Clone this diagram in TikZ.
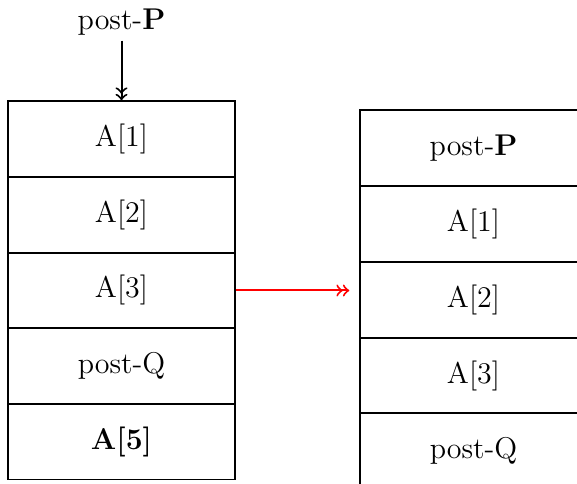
\documentclass[tikz,border=0pt]{standalone}
\usetikzlibrary{arrows}
\begin{document}
\begin{tikzpicture}[x=0.4pt,y=-0.4pt,font=\large,
  cell/.style={draw,rectangle,inner sep=0pt,minimum width=90.8pt,minimum height=30.4pt,line width=0.5pt},
  conn/.style={->>,line width=0.8pt}]
\useasboundingbox (0,0) rectangle (577,484);
\clip (0,0) rectangle (577,484);
% left stack
\node[cell] (l1) at (121.5,139) {A[1]};
\node[cell] (l2) at (121.5,215) {A[2]};
\node[cell] (l3) at (121.5,290.5) {A[3]};
\node[cell] (l4) at (121.5,366) {post-Q};
\node[cell] (l5) at (121.5,441.5) {\textbf{A[5]}};
% right stack
\node[cell] (r1) at (473.5,148) {post-\textbf{P}};
\node[cell] (r2) at (473.5,224) {A[1]};
\node[cell] (r3) at (473.5,300) {A[2]};
\node[cell] (r4) at (473.5,375.5) {A[3]};
\node[cell] (r5) at (473.5,451) {post-Q};
% top label
\node[inner sep=2pt] (top) at (121.5,22) {post-\textbf{P}};
\draw[conn] (top.south) -- (l1.north);
\draw[conn,red] (l3.east) -- ([xshift=-4pt]r3.west |- l3.east);
\end{tikzpicture}
\end{document}
